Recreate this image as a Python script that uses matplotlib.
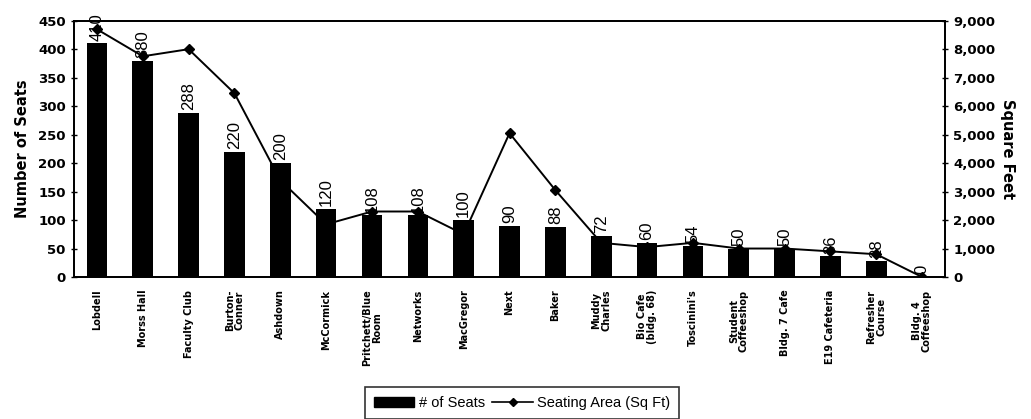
import matplotlib.pyplot as plt
from matplotlib.patches import Patch
from matplotlib.lines import Line2D
from matplotlib.ticker import FuncFormatter

# dining locations, seat counts and seating area (sq ft)
places = ['Lobdell', 'Morss Hall', 'Faculty Club', 'Burton-\nConner', 'Ashdown',
          'McCormick', 'Pritchett/Blue\nRoom', 'Networks', 'MacGregor', 'Next',
          'Baker', 'Muddy\nCharles', 'Bio Cafe\n(bldg. 68)', "Toscinini's",
          'Student\nCoffeeshop', 'Bldg. 7 Cafe', 'E19 Cafeteria', 'Refresher\nCourse',
          'Bldg. 4\nCoffeeshop']
seats = [410, 380, 288, 220, 200, 120, 108, 108, 100, 90, 88, 72, 60, 54, 50, 50, 36, 28, 0]
sqft = [8700, 7750, 8000, 6450, 3400, 1850, 2300, 2300, 1500, 5050, 3050, 1200,
        1050, 1200, 1000, 1000, 900, 800, 0]

fig = plt.figure(figsize=(10.31, 4.19), dpi=100)
ax = fig.add_axes([0.0718, 0.3389, 0.9166 - 0.0718, 0.9506 - 0.3389])
ax2 = ax.twinx()

x = list(range(len(places)))

# line behind the bars
ax2.plot(x, sqft, color='black', lw=1.4, marker='D', markersize=5.5, zorder=2)
ax2.set_ylim(0, 9000)
ax2.set_yticks(range(0, 9001, 1000))
ax2.yaxis.set_major_formatter(FuncFormatter(lambda v, p: '{:,.0f}'.format(v)))

ax.set_zorder(ax2.get_zorder() + 1)
ax.patch.set_visible(False)
ax.bar(x, seats, width=0.45, color='black', zorder=3)
for xi, s in zip(x, seats):
  ax.annotate(str(s), (xi, s), xytext=(0, 2), textcoords='offset points',
              rotation=90, ha='center', va='bottom', fontsize=12,
              family=['Liberation Sans', 'DejaVu Sans'], annotation_clip=False)

ax.set_xlim(-0.5, len(places) - 0.5)
ax.set_ylim(0, 450)
ax.set_yticks(range(0, 451, 50))
ax.set_xticks(x)
ax.set_xticklabels(places, rotation=90, fontsize=7, fontweight='bold',
                   ha='center', va='top', multialignment='center', linespacing=0.95)
ax.tick_params(axis='x', length=0, pad=9)
ax.tick_params(axis='y', direction='inout', length=5, labelsize=9.5, width=1)
ax2.tick_params(axis='y', direction='inout', length=5, labelsize=9.5, width=1)
for lab in ax.get_yticklabels() + ax2.get_yticklabels():
  lab.set_fontweight('bold')

for a in (ax, ax2):
  for sp in a.spines.values():
    sp.set_linewidth(1.3)

ax.set_ylabel('Number of Seats', fontsize=10.5, fontweight='bold', labelpad=6)
ax2.set_ylabel('Square Feet', fontsize=10.5, fontweight='bold', rotation=270, labelpad=14)

handles = [Patch(facecolor='black', edgecolor='black'),
           Line2D([], [], color='black', lw=1.2, marker='D', markersize=4)]
leg = fig.legend(handles, ['# of Seats', 'Seating Area (Sq Ft)'],
                 loc='upper center', bbox_to_anchor=(522 / 1031, 1 - 387 / 419),
                 borderaxespad=0, ncol=2, frameon=True, fancybox=False, edgecolor='black',
                 handlelength=2.8, handletextpad=0.3, columnspacing=0.5,
                 borderpad=0.6,
                 prop={'family': ['Liberation Sans Narrow', 'Liberation Sans'], 'size': 10.5})
leg.get_frame().set_linewidth(1.2)

fig.savefig('out.png', dpi=100)
